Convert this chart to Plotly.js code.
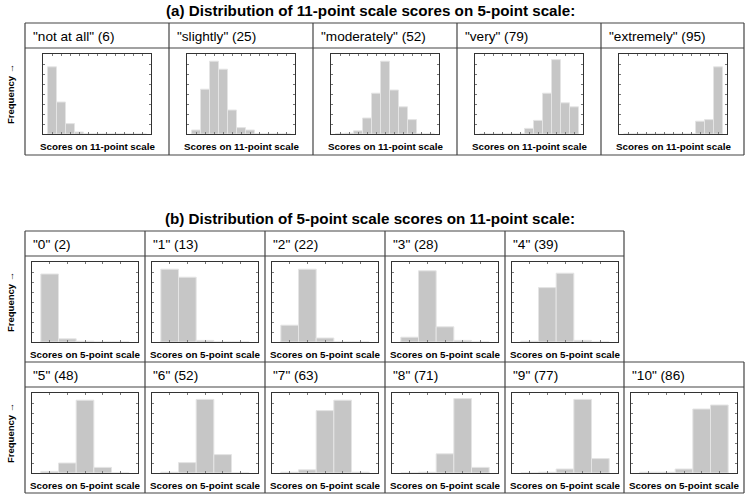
<!DOCTYPE html>
<html>
<head>
<meta charset="utf-8">
<script src="https://cdn.plot.ly/plotly-3.0.1.min.js"></script>
<style>
  body { margin: 0; background: #fff; }
  #myDiv { width: 750px; height: 498px; }
</style>
</head>
<body>
<div id="myDiv"></div>
<script>
// (a) 5-point scale words, with their scores in parentheses
var words5 = ['not at all', 'slightly', 'moderately', 'very', 'extremely'];
var words5Score = [6, 25, 52, 79, 95];
var bins11 = [0, 1, 2, 3, 4, 5, 6, 7, 8, 9, 10];
// relative frequency (bar height, % of plot height)
var hist11 = [
    [84, 40, 13, 2.5, 0, 0, 0, 0, 0, 0, 0],
    [5, 56, 91, 81, 30, 8, 5, 0, 0, 0, 0],
    [0.5, 1, 4, 20, 51, 91, 55, 34, 18, 0, 0],
    [0, 0, 0, 0, 0, 7, 17, 51, 93, 39, 34],
    [0, 0, 0, 0, 0, 0, 0, 0, 16, 18, 84]
];

// (b) 11-point scale points, with their scores in parentheses
var points11 = ['0', '1', '2', '3', '4', '5', '6', '7', '8', '9', '10'];
var points11Score = [2, 13, 22, 28, 39, 48, 52, 63, 71, 77, 86];
var bins5 = [1, 2, 3, 4, 5];
var hist5 = [
    [85, 4, 1, 0, 0],
    [91, 81, 2, 0, 0],
    [21, 91, 5, 0, 0],
    [6, 89, 19, 2, 0],
    [1, 68, 86, 2, 0],
    [2, 12.5, 91, 7, 0],
    [1, 13, 92, 23, 0],
    [1, 4, 78, 91, 1],
    [0, 1, 24, 93, 7],
    [0, 1, 5, 92, 18],
    [1, 1, 5, 80, 85]
];

var W = 750, H = 498;
function px(x) { return x / W; }
function py(y) { return 1 - y / H; }

var data = [];
var layout = {
    width: W, height: H,
    margin: {l: 0, r: 0, t: 0, b: 0},
    paper_bgcolor: '#fff', plot_bgcolor: '#fff',
    showlegend: false,
    bargap: 0,
    font: {family: 'Liberation Sans, Arial, sans-serif', color: '#000'},
    annotations: [],
    shapes: []
};

var lineCol = '#444';
function hline(y, x0, x1) {
    layout.shapes.push({type: 'line', xref: 'paper', yref: 'paper',
        x0: px(x0), x1: px(x1), y0: py(y), y1: py(y), line: {color: lineCol, width: 1.2}});
}
function vline(x, y0, y1) {
    layout.shapes.push({type: 'line', xref: 'paper', yref: 'paper',
        x0: px(x), x1: px(x), y0: py(y0), y1: py(y1), line: {color: lineCol, width: 1.2}});
}
function text(str, x, y, size, bold, xanchor, angle) {
    layout.annotations.push({
        text: bold ? '<b>' + str + '</b>' : str,
        xref: 'paper', yref: 'paper', x: px(x), y: py(y),
        xanchor: xanchor || 'center', yanchor: 'middle',
        showarrow: false, textangle: angle || 0,
        font: {size: size, color: '#000'}
    });
}

var n = 0;
function panel(xs, ys, xrange, x0, x1, y0, y1, label) {
    n++;
    var sfx = n === 1 ? '' : String(n);
    data.push({
        type: 'bar', x: xs, y: ys, width: 1,
        xaxis: 'x' + sfx, yaxis: 'y' + sfx,
        marker: {color: '#c6c6c6', line: {color: '#e4e4e4', width: 1}},
        hoverinfo: 'x+y'
    });
    var common = {
        showline: true, mirror: 'allticks', linecolor: '#333', linewidth: 1,
        ticks: 'inside', ticklen: 2, tickcolor: '#777', tickwidth: 1,
        showgrid: false, zeroline: false, showticklabels: false, fixedrange: true
    };
    layout['xaxis' + sfx] = Object.assign({}, common, {
        domain: [px(x0), px(x1)], range: xrange, dtick: 1, tick0: 0,
        anchor: 'y' + sfx
    });
    layout['yaxis' + sfx] = Object.assign({}, common, {
        domain: [py(y1), py(y0)], range: [0, 100], dtick: 12.5,
        anchor: 'x' + sfx
    });
    text(label, (x0 + x1) / 2, y1 + 12, 9.8, true);
}

// ---- (a) ----
text('(a) Distribution of 11-point scale scores on 5-point scale:', 370, 10, 15.2, true);
var colsA = [25, 169, 313, 457, 601, 744];
hline(23, 25, 744); hline(48, 25, 744); hline(155, 25, 744);
colsA.forEach(function (c) { vline(c, 23, 155); });
for (var i = 0; i < words5.length; i++) {
    var c = colsA[i];
    text('"' + words5[i] + '" (' + words5Score[i] + ')', c + 6, 36, 13.6, false, 'left');
    panel(bins11, hist11[i], [-1, 11], c + 18, c + 126, 54, 134, 'Scores on 11-point scale');
}
text('Frequency \u2192', 10, 94, 9.5, true, 'center', -90);

// ---- (b) ----
text('(b) Distribution of 5-point scale scores on 11-point scale:', 370, 218, 15.2, true);
var colsB = [25, 145, 265, 385, 505, 624, 744];
hline(231, 25, 624); hline(256, 25, 624);
hline(362, 25, 744); hline(387, 25, 744); hline(493, 25, 744);
for (var k = 0; k < 6; k++) vline(colsB[k], 231, 362);
for (var k = 0; k < 7; k++) vline(colsB[k], 362, 493);
for (var j = 0; j < points11.length; j++) {
    var row = j < 5 ? 0 : 1;
    var col = row === 0 ? j : j - 5;
    var cx = colsB[col];
    var rowTop = row === 0 ? 231 : 362;
    text('"' + points11[j] + '" (' + points11Score[j] + ')', cx + 6, rowTop + 13, 13.6, false, 'left');
    panel(bins5, hist5[j], [0, 6], cx + 7, cx + 113, rowTop + 31, rowTop + 111, 'Scores on 5-point scale');
}
text('Frequency \u2192', 10, 302, 9.5, true, 'center', -90);
text('Frequency \u2192', 10, 433, 9.5, true, 'center', -90);

Plotly.newPlot('myDiv', data, layout, {displayModeBar: false, staticPlot: true});
</script>
</body>
</html>
